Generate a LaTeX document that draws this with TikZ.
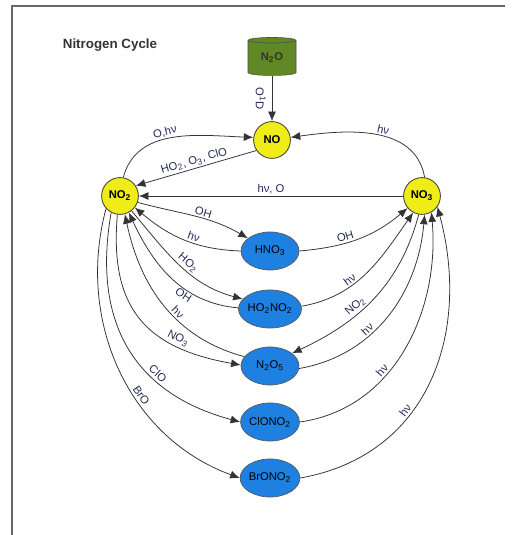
\documentclass[tikz,border=0pt]{standalone}
\usepackage{fontspec}
\setmainfont{Liberation Sans}
\usetikzlibrary{shapes.geometric,arrows.meta}

\definecolor{gasyellow}{RGB}{240,236,24}
\definecolor{resblue}{RGB}{30,128,224}
\definecolor{srcgreen}{RGB}{96,136,36}
\definecolor{rxnlabel}{RGB}{36,42,84}
\definecolor{framegray}{RGB}{110,100,105}

\begin{document}
\begin{tikzpicture}[
  gas/.style={circle, draw=black!75, line width=0.6pt, fill=gasyellow, minimum size=0.92cm, inner sep=0pt, font=\footnotesize\bfseries},
  reservoir/.style={ellipse, draw=black!65, line width=0.5pt, fill=resblue, minimum width=1.45cm, minimum height=0.95cm, inner sep=0pt, font=\footnotesize},
  source/.style={cylinder, shape border rotate=90, aspect=0.25, draw=black!70, fill=srcgreen, minimum width=1.2cm, minimum height=0.95cm, inner sep=0pt, font=\footnotesize\bfseries, text=black!80},
  rxn/.style={draw=black!80, line width=0.55pt, -{Latex[length=2.4mm,width=2mm]}},
  lbl/.style={font=\footnotesize, text=rxnlabel, inner sep=1.2pt}
]
\useasboundingbox (0,0) rectangle (12.775,13.375);
% Frame
\draw[framegray, line width=0.8pt] (12.625,13.225) -- (0.3,13.225) -- (0.3,0);
% Title
\node[font=\fontsize{9.5}{11}\selectfont\bfseries, text=black!80] (title) at (2.75,12.25) {Nitrogen Cycle};
% Species
\node[source] (n2o) at (6.8,11.925) {N\textsubscript{2}O};
\node[gas] (no) at (6.8,9.875) {NO};
\node[gas] (no2) at (3.0,8.475) {NO\textsubscript{2}};
\node[gas] (no3) at (10.55,8.475) {NO\textsubscript{3}};
% Reservoirs
\node[reservoir] (hno3) at (6.75,7.1) {HNO\textsubscript{3}};
\node[reservoir] (ho2no2) at (6.75,5.65) {HO\textsubscript{2}NO\textsubscript{2}};
\node[reservoir] (n2o5) at (6.75,4.225) {N\textsubscript{2}O\textsubscript{5}};
\node[reservoir] (clono2) at (6.75,2.825) {ClONO\textsubscript{2}};
\node[reservoir] (brono2) at (6.75,1.425) {BrONO\textsubscript{2}};
% NO, NO2, NO3
\draw[rxn] (n2o) -- node[lbl, xshift=-0.28cm, rotate=-90] {O\textsuperscript{1}D} (no);
\draw[rxn] (no2.80) to[out=75, in=178] node[lbl, sloped, above, pos=0.45] {O,hν} (no.172);
\draw[rxn] (no.214) -- node[lbl, sloped, above] {HO\textsubscript{2}, O\textsubscript{3}, ClO} (no2.33);
\draw[rxn] (no3.82) to[out=100, in=8] node[lbl, sloped, above, pos=0.45] {hν} (no.8);
\draw[rxn] (no3) -- node[lbl, above] {hν, O} (no2);
% NO2 <-> reservoirs
\draw[rxn] (no2.-20) to[out=-15, in=150] node[lbl, sloped, above, pos=0.57] {OH} (hno3.150);
\draw[rxn] (hno3.180) to[out=178, in=-40] node[lbl, sloped, above, pos=0.42] {hν} (no2.-38);
\draw[rxn] (no2.-52) to[out=-50, in=165] node[lbl, sloped, above, pos=0.53] {HO\textsubscript{2}} (ho2no2.160);
\draw[rxn] (ho2no2.178) to[out=175, in=-65] node[lbl, sloped, below, pos=0.36] {OH} (no2.-62);
\draw[rxn] (n2o5.160) to[out=165, in=-78] node[lbl, sloped, above, pos=0.42] {hν} (no2.-75);
\draw[rxn] (no2.-98) to[out=-95, in=170, looseness=1.25] node[lbl, sloped, above, pos=0.72] {NO\textsubscript{3}} (n2o5.178);
\draw[rxn] (no2.-118) to[out=-100, in=165, looseness=1.15] node[lbl, sloped, above, pos=0.66] {ClO} (clono2.180);
\draw[rxn] (no2.-138) to[out=-105, in=160] node[lbl, sloped, above, pos=0.6] {BrO} (brono2.180);
% reservoirs <-> NO3
\draw[rxn] (hno3.0) to[out=5, in=-140] node[lbl, sloped, above, pos=0.4] {OH} (no3.-140);
\draw[rxn] (ho2no2.5) to[out=10, in=-125] node[lbl, sloped, above, pos=0.38] {hν} (no3.-118);
\draw[rxn] (no3.-100) to[out=-105, in=25] node[lbl, sloped, above, pos=0.6] {NO\textsubscript{2}} (n2o5.30);
\draw[rxn] (n2o5.-5) to[out=10, in=-95] node[lbl, sloped, above, pos=0.38] {hν} (no3.-82);
\draw[rxn] (clono2.0) to[out=8, in=-85] node[lbl, sloped, above, pos=0.38] {hν} (no3.-60);
\draw[rxn] (brono2.0) to[out=10, in=-75, looseness=1.1] node[lbl, sloped, above, pos=0.38] {hν} (no3.-35);
\end{tikzpicture}
\end{document}
